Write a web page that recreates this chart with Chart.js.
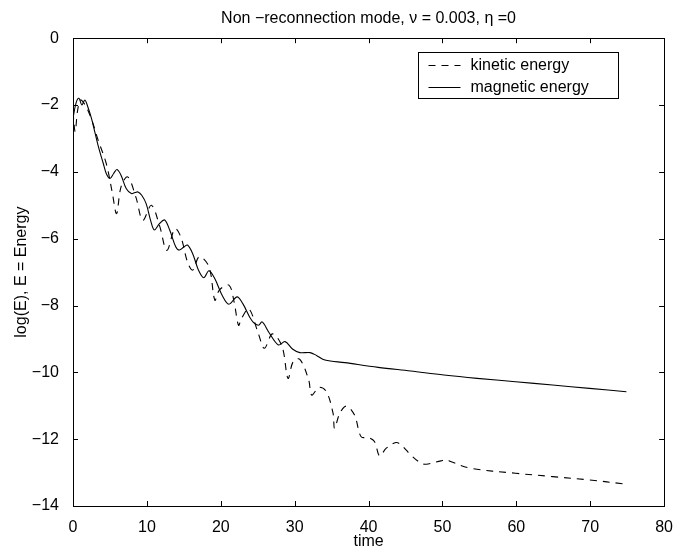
<!DOCTYPE html>
<html>
<head>
<meta charset="utf-8">
<script src="https://cdn.jsdelivr.net/npm/chart.js@4.4.1/dist/chart.umd.min.js"></script>
<style>
  html, body { margin: 0; padding: 0; background: #fff; }
  #wrap { width: 677px; height: 554px; }
</style>
</head>
<body>
<div id="wrap"><canvas id="c" width="677" height="554"></canvas></div>
<script>
// ---- data ----
const chartTitle = 'Non \u2212reconnection mode, \u03bd = 0.003, \u03b7 =0';
const xTitle = 'time';
const yTitle = 'log(E), E = Energy';
const seriesLabels = ['kinetic energy', 'magnetic energy'];

const kineticTime = [0, 0.3, 0.6, 1.0, 1.5, 2.0, 2.7, 3.4, 4.5, 5.3, 5.9, 6.5, 7.4, 8.5, 9.45, 10.6, 11.7, 12.7, 13.8, 14.6, 15.5, 16.2, 17.1, 18.4, 19.2, 19.8, 21.1, 21.8, 22.4, 22.8, 23.8, 25.1, 25.9, 27.0, 28.3, 29.1, 29.8, 30.7, 31.9, 32.3, 33.3, 34.3, 35.2, 35.4, 36.1, 37.0, 38.1, 39.0, 40.0, 40.8, 41.5, 42.4, 43.7, 44.4, 45.7, 47.1, 47.8, 49.8, 50.6, 51.1, 53.8, 59.9, 64.9, 69.9, 74.6];
const kineticValue = [-2.2, -2.8, -2.2, -1.85, -1.95, -2.15, -2.55, -3.05, -3.75, -4.6, -5.25, -4.45, -4.15, -4.75, -5.45, -5.0, -5.6, -6.35, -5.7, -5.95, -6.7, -6.94, -6.54, -6.84, -7.84, -7.54, -7.39, -7.89, -8.59, -8.39, -8.1, -8.85, -9.28, -8.85, -9.23, -10.18, -9.68, -9.61, -10.23, -10.68, -10.45, -10.58, -11.23, -11.68, -11.23, -11.01, -11.28, -11.93, -11.95, -12.07, -12.5, -12.27, -12.1, -12.17, -12.47, -12.72, -12.75, -12.65, -12.62, -12.67, -12.87, -13.02, -13.12, -13.22, -13.34];

const magneticTime = [0, 0.4, 0.8, 1.2, 1.6, 2.0, 2.5, 3.0, 3.5, 4.1, 4.5, 5.0, 5.5, 5.95, 6.5, 7.2, 7.9, 8.4, 8.8, 9.3, 9.9, 10.5, 11.0, 11.7, 12.4, 13.1, 13.9, 14.4, 15.0, 15.5, 16.2, 17.0, 17.7, 18.4, 19.2, 20.2, 21.1, 22.2, 23.0, 24.2, 25.1, 25.6, 26.5, 27.8, 28.7, 29.7, 30.7, 32.1, 33.0, 34.1, 36.8, 41.3, 45.7, 50.2, 54.7, 59.9, 64.9, 69.9, 74.9];
const magneticValue = [-2.4, -1.95, -1.8, -2.0, -1.85, -2.05, -2.4, -2.85, -3.3, -3.75, -4.05, -4.2, -4.05, -3.93, -4.1, -4.5, -4.65, -4.62, -4.6, -4.7, -4.95, -5.45, -5.74, -5.55, -5.44, -5.75, -6.24, -6.34, -6.25, -6.19, -6.45, -6.95, -7.17, -6.96, -7.2, -7.7, -7.96, -7.74, -7.95, -8.45, -8.59, -8.49, -8.8, -9.18, -9.08, -9.3, -9.41, -9.41, -9.5, -9.63, -9.71, -9.85, -9.96, -10.08, -10.18, -10.28, -10.38, -10.48, -10.58];

const xTicks = [0, 10, 20, 30, 40, 50, 60, 70, 80];
const yTicks = [0, -2, -4, -6, -8, -10, -12, -14];

// ---- helpers ----
const FONT = '"Liberation Sans", Arial, Helvetica, sans-serif';
function pts(t, v) { return t.map((x, i) => ({ x: x, y: v[i] })); }
function fmt(v) { return v < 0 ? '\u2212' + Math.abs(v) : String(v); }

const boxPlugin = {
  id: 'matlabBox',
  afterDatasetsDraw(chart) {
    const { ctx, chartArea: a, scales } = chart;
    ctx.save();
    ctx.strokeStyle = '#000';
    ctx.lineWidth = 1;
    ctx.setLineDash([]);
    ctx.strokeRect(Math.round(a.left) + 0.5, Math.round(a.top) + 0.5, Math.round(a.right - a.left), Math.round(a.bottom - a.top));
    const L = 5;
    ctx.beginPath();
    xTicks.forEach(v => {
      const x = Math.round(scales.x.getPixelForValue(v)) + 0.5;
      ctx.moveTo(x, a.bottom); ctx.lineTo(x, a.bottom - L);
      ctx.moveTo(x, a.top); ctx.lineTo(x, a.top + L);
    });
    yTicks.forEach(v => {
      const y = Math.round(scales.y.getPixelForValue(v)) + 0.5;
      ctx.moveTo(a.left, y); ctx.lineTo(a.left + L, y);
      ctx.moveTo(a.right, y); ctx.lineTo(a.right - L, y);
    });
    ctx.stroke();

    // legend box
    const lx = 418.5, ly = 52.5, lw = 200, lh = 46;
    ctx.fillStyle = '#fff';
    ctx.fillRect(lx, ly, lw, lh);
    ctx.strokeRect(lx, ly, lw, lh);
    ctx.font = '16px ' + FONT;
    ctx.fillStyle = '#000';
    ctx.textBaseline = 'middle';
    ctx.textAlign = 'left';
    chart.data.datasets.forEach((ds, i) => {
      const yy = ly + 13 + i * 22;
      ctx.beginPath();
      ctx.lineWidth = 1;
      ctx.setLineDash(ds.borderDash || []);
      ctx.moveTo(lx + 10, yy); ctx.lineTo(lx + 42, yy);
      ctx.stroke();
      ctx.setLineDash([]);
      ctx.fillText(ds.label, lx + 52, yy);
    });
    ctx.restore();
  }
};

new Chart(document.getElementById('c'), {
  type: 'scatter',
  data: {
    datasets: [
      { label: seriesLabels[0], data: pts(kineticTime, kineticValue), showLine: true, borderColor: '#000', borderWidth: 1.1, borderDash: [7, 6], pointRadius: 0, tension: 0.35, fill: false },
      { label: seriesLabels[1], data: pts(magneticTime, magneticValue), showLine: true, borderColor: '#000', borderWidth: 1.1, pointRadius: 0, tension: 0.35, fill: false }
    ]
  },
  options: {
    responsive: false,
    animation: false,
    devicePixelRatio: 1,
    layout: { padding: { left: 0, right: 9, top: 0, bottom: 0 } },
    plugins: {
      legend: { display: false },
      tooltip: { enabled: false },
      title: { display: true, text: chartTitle, fullSize: false, color: '#000', font: { family: FONT, size: 16, weight: 'normal' }, padding: { top: 9, bottom: 10 } }
    },
    scales: {
      x: {
        type: 'linear', min: 0, max: 80,
        afterBuildTicks(s) { s.ticks = xTicks.map(v => ({ value: v })); },
        afterFit(s) { s.height = 48; },
        grid: { display: false }, border: { display: false },
        ticks: { color: '#000', font: { family: FONT, size: 16 }, padding: 4, maxRotation: 0, callback: v => fmt(v) },
        title: { display: true, text: xTitle, color: '#000', font: { family: FONT, size: 16 }, padding: { top: 0, bottom: 3 } }
      },
      y: {
        type: 'linear', min: -14, max: 0,
        afterBuildTicks(s) { s.ticks = yTicks.map(v => ({ value: v })); },
        afterFit(s) { s.width = 73; },
        grid: { display: false }, border: { display: false },
        ticks: { color: '#000', font: { family: FONT, size: 16 }, padding: 6, callback: v => fmt(v) },
        title: { display: true, text: yTitle, color: '#000', font: { family: FONT, size: 16 }, padding: { top: 12, bottom: 0 } }
      }
    }
  },
  plugins: [boxPlugin]
});
</script>
</body>
</html>
